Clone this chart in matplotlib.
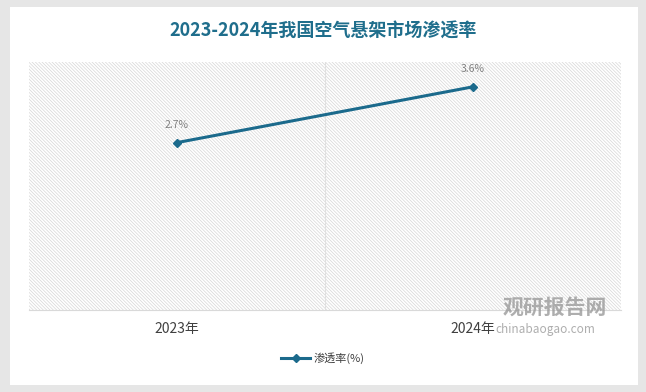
import matplotlib.pyplot as plt
from matplotlib.patches import Rectangle

plt.rcParams['font.family'] = ['Noto Sans CJK SC', 'DejaVu Sans']
plt.rcParams['hatch.linewidth'] = 0.5

years = ["2023年", "2024年"]
rate = [2.7, 3.6]
labels = ["2.7%", "3.6%"]

line_color = "#1b6a8c"

fig = plt.figure(figsize=(6.46, 3.92), dpi=100)
fig.patch.set_facecolor("#e6e6e6")
# white card
fig.patches.append(Rectangle((10 / 646, 7 / 392), 628 / 646, 378 / 392,
                             transform=fig.transFigure, facecolor="white",
                             edgecolor="none", zorder=-10))

ax = fig.add_axes([29 / 646, 82 / 392, 592 / 646, 248 / 392])
ax.set_facecolor("white")
ax.add_patch(Rectangle((0, 0), 1, 1, transform=ax.transAxes, facecolor="white",
                       edgecolor="#d6d6d6", hatch="\\" * 10, lw=0, zorder=0))

x = list(range(len(years)))
ax.plot(x, rate, color=line_color, lw=2.2, marker="D", markersize=4.5,
        label="渗透率(%)", zorder=3)
for xi, v, t in zip(x, rate, labels):
    ax.annotate(t, (xi, v), xytext=(0, 9), textcoords="offset points",
                ha="center", va="bottom", fontsize=7.5, color="#808080")

ax.set_xlim(-0.5, 1.5)
ax.set_ylim(0, 4.0)
ax.axvline(0.5, color="#e0e0e0", lw=0.8, zorder=1)
ax.set_xticks(x)
ax.set_xticklabels(years, fontsize=10, color="#404040")
ax.tick_params(axis="x", length=0, pad=9)
ax.set_yticks([])
for s in ["top", "left", "right"]:
    ax.spines[s].set_visible(False)
ax.spines["bottom"].set_color("#d9d9d9")
ax.spines["bottom"].set_linewidth(0.8)

fig.text(0.5, 1 - 31 / 392, "2023-2024年我国空气悬架市场渗透率", ha="center",
         va="center", fontsize=13, fontweight="bold", color="#1f6e8c")

leg = fig.legend(loc="center", bbox_to_anchor=(0.5, 1 - 358 / 392), frameon=False,
                 fontsize=8, handlelength=2.6, handletextpad=0.3)
for t in leg.get_texts():
    t.set_color("#404040")

# watermark
fig.text(555 / 646, 1 - 307 / 392, "观研报告网", ha="center", va="center",
         fontsize=15, fontweight="bold", color="#9a9a9a", alpha=0.8)
fig.text(545 / 646, 1 - 330 / 392, "chinabaogao.com", ha="center", va="center",
         fontsize=8.5, color="#9a9a9a", alpha=0.8)

fig.savefig("out.png", dpi=100, facecolor=fig.get_facecolor())
